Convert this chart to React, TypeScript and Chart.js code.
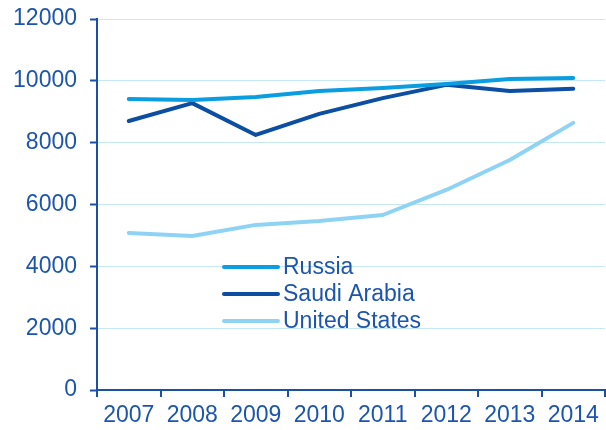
import React, { useEffect, useRef } from "react";
import { Chart, registerables } from "chart.js";

Chart.register(...registerables);

const years = ["2007", "2008", "2009", "2010", "2011", "2012", "2013", "2014"];
const russia = [9410, 9380, 9480, 9670, 9770, 9900, 10060, 10090];
const saudiArabia = [8700, 9280, 8250, 8930, 9440, 9870, 9670, 9740];
const unitedStates = [5080, 4980, 5340, 5470, 5660, 6470, 7440, 8640];
const seriesNames = ["Russia", "Saudi Arabia", "United States"];
const seriesColors = ["#0a9de0", "#0b4ea2", "#8fd3f4"];
const yTicks = [0, 2000, 4000, 6000, 8000, 10000, 12000];

const TEXT = "#1c55ad";
const AXIS = "#1a50a6";
const GRID = "#c6e7f6";
const FONT = "'Liberation Sans', Arial, sans-serif";

const legendPlugin = {
  id: "insideLegend",
  afterDraw(chart: any) {
    const ctx = chart.ctx;
    ctx.save();
    const x0 = 224;
    const lineLen = 54;
    const ys = [267, 294, 321];
    ctx.font = `23px ${FONT}`;
    ctx.textBaseline = "middle";
    ctx.textAlign = "left";
    chart.data.datasets.forEach((ds: any, i: number) => {
      ctx.strokeStyle = ds.borderColor;
      ctx.lineWidth = 4;
      ctx.lineCap = "round";
      ctx.beginPath();
      ctx.moveTo(x0, ys[i]);
      ctx.lineTo(x0 + lineLen, ys[i]);
      ctx.stroke();
      ctx.fillStyle = TEXT;
      ctx.fillText(ds.label, x0 + lineLen + 5, ys[i] + 1);
    });
    ctx.restore();
  },
};

export default function App() {
  const ref = useRef<HTMLCanvasElement | null>(null);
  useEffect(() => {
    if (!ref.current) return;
    const datasets = [russia, saudiArabia, unitedStates].map((d, i) => ({
      label: seriesNames[i],
      data: d,
      borderColor: seriesColors[i],
      backgroundColor: seriesColors[i],
      borderWidth: 4,
      pointRadius: 0,
      tension: 0,
      borderCapStyle: "round" as const,
      borderJoinStyle: "round" as const,
    }));
    const chart = new Chart(ref.current, {
      type: "line",
      data: { labels: years, datasets },
      options: {
        responsive: false,
        animation: false,
        layout: { padding: { top: 19, right: 1, left: 0, bottom: 0 } },
        plugins: { legend: { display: false }, tooltip: { enabled: false } },
        scales: {
          x: {
            offset: true,
            grid: {
              offset: true,
              drawOnChartArea: false,
              drawTicks: true,
              tickLength: 7,
              color: AXIS,
              lineWidth: 2,
            },
            border: { color: AXIS, width: 2 },
            ticks: { color: TEXT, font: { size: 23, family: FONT }, padding: 5, maxRotation: 0, autoSkip: false },
            afterFit(scale: any) {
              scale.height = 40;
              scale.paddingLeft = 0;
              scale.paddingRight = 0;
            },
          },
          y: {
            min: 0,
            max: 12000,
            afterBuildTicks(scale: any) {
              scale.ticks = yTicks.map((v) => ({ value: v }));
            },
            grid: {
              color: GRID,
              lineWidth: 1,
              tickColor: AXIS,
              tickWidth: 2,
              tickLength: 7,
            },
            border: { color: AXIS, width: 2 },
            ticks: {
              color: TEXT,
              font: { size: 23, family: FONT },
              padding: 13,
              callback: (v: any) => String(v),
            },
            afterFit(scale: any) {
              scale.width = 97;
              scale.paddingTop = 0;
              scale.paddingBottom = 0;
            },
          },
        },
      },
      plugins: [legendPlugin],
    });
    return () => chart.destroy();
  }, []);
  return (
    <div style={{ position: "fixed", left: 0, top: 0, width: 606, height: 430, background: "#fff" }}>
      <canvas ref={ref} width={606} height={430} style={{ display: "block" }} />
    </div>
  );
}
